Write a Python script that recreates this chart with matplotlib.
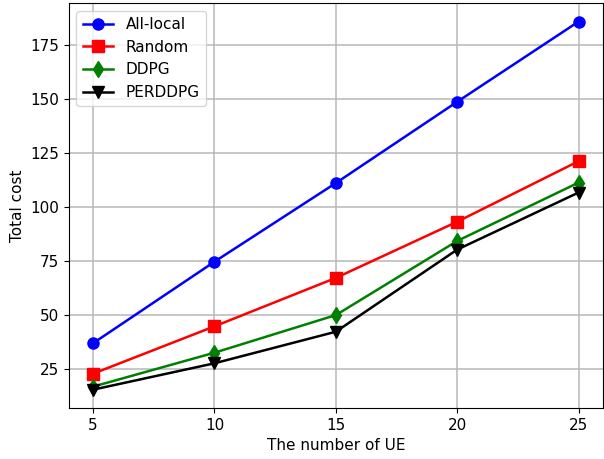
import matplotlib
matplotlib.use("Agg")
from matplotlib import pyplot as plt

ue = [5, 10, 15, 20, 25]
all_local = [36.9, 74.6, 111.0, 148.6, 185.7]
random_off = [22.8, 44.7, 67.1, 93.1, 121.1]
ddpg = [16.8, 32.5, 49.9, 84.2, 111.2]
perddpg = [15.4, 27.6, 42.2, 80.2, 106.6]

plt.figure(figsize=(6.04, 4.59), dpi=100)
plt.plot(ue, all_local, "b-o", label="All-local", markersize=8, linewidth=1.8)
plt.plot(ue, random_off, "r-s", label="Random", markersize=8, linewidth=1.8)
plt.plot(ue, ddpg, "g-d", label="DDPG", markersize=8, linewidth=1.8)
plt.plot(ue, perddpg, "k-v", label="PERDDPG", markersize=8, linewidth=1.8)
plt.xticks(ue)
plt.xlabel("The number of UE", fontsize=11)
plt.ylabel("Total cost", fontsize=11)
plt.tick_params(labelsize=11)
plt.grid(True, color="#b8b8b8", linewidth=1.1)
plt.legend(fontsize=11, loc="upper left")
plt.subplots_adjust(left=0.114, right=0.998, bottom=0.111, top=0.993)
plt.savefig("out.png")
